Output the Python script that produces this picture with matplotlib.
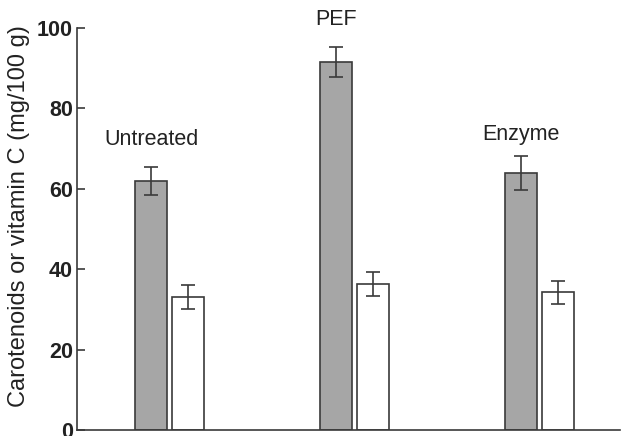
import numpy as np
import matplotlib
matplotlib.use('Agg')
import matplotlib.pyplot as plt

plt.rcParams['font.family'] = ['Liberation Sans', 'DejaVu Sans']

groups = ['Untreated', 'PEF', 'Enzyme']
carotenoids = [62.0, 91.5, 64.0]
carotenoids_err = [3.5, 3.7, 4.2]
vitamin_c = [33.0, 36.3, 34.2]
vitamin_c_err = [3.0, 3.0, 2.8]
label_y = [72.3, 102.0, 73.4]

x = np.arange(len(groups))
width = 0.173
ink = '#3a3a3a'

fig = plt.figure(figsize=(6.24, 4.36), dpi=100)
ax = fig.add_axes([0.1234, 0.0138, 0.8706, 0.9222])

ax.bar(x - 0.1, carotenoids, width, color='#a6a6a6', edgecolor=ink, linewidth=1.2,
       yerr=carotenoids_err, capsize=5, error_kw=dict(ecolor=ink, elinewidth=1.2, capthick=1.2))
ax.bar(x + 0.1, vitamin_c, width, color='white', edgecolor=ink, linewidth=1.2,
       yerr=vitamin_c_err, capsize=5, error_kw=dict(ecolor=ink, elinewidth=1.2, capthick=1.2))

# group names above the pairs
label_x = [-0.1, -0.1, -0.1]
for xi, lx, ly, name in zip(x, label_x, label_y, groups):
    ax.text(xi + lx, ly, name, ha='center', va='center', fontsize=15.5, color='#222222',
            clip_on=False)

ax.set_xlim(-0.5, 2.435)
ax.set_ylim(0, 100)
ax.set_yticks([0, 20, 40, 60, 80, 100])
ax.set_xticks([])
ax.set_ylabel('Carotenoids or vitamin C (mg/100 g)', fontsize=17, color='#222222')
ax.yaxis.set_label_coords(-0.087, 0.532)
ax.tick_params(axis='y', direction='in', length=6, width=1.2, colors=ink, labelsize=15.5,
               labelcolor='#222222', pad=3)
for lab in ax.get_yticklabels():
    lab.set_fontweight('bold')
ax.spines['top'].set_visible(False)
ax.spines['right'].set_visible(False)
ax.spines['left'].set_color(ink)
ax.spines['bottom'].set_color(ink)
ax.spines['left'].set_linewidth(1.2)
ax.spines['bottom'].set_linewidth(1.2)

fig.savefig('out.png', dpi=100)
